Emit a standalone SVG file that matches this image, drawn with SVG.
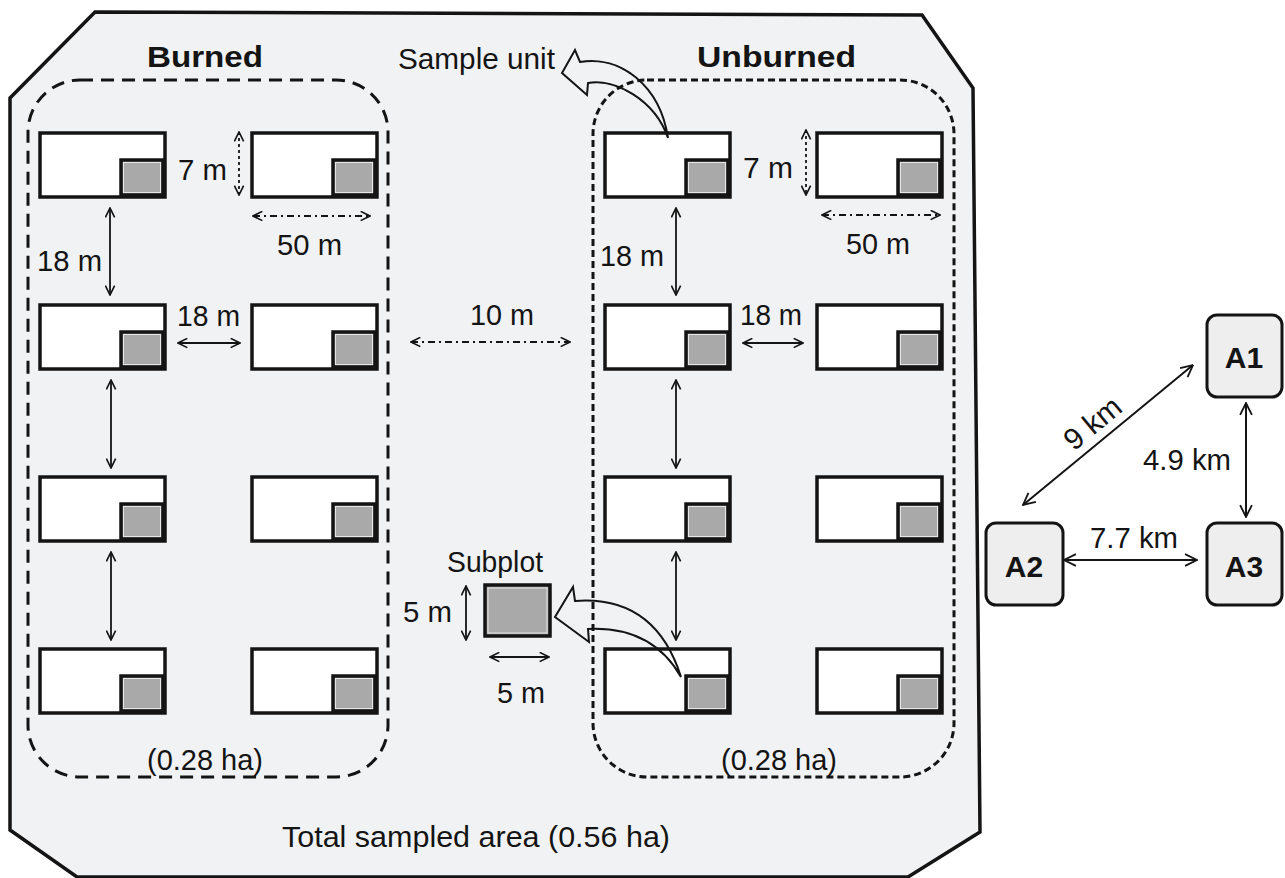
<svg xmlns="http://www.w3.org/2000/svg" xmlns:xlink="http://www.w3.org/1999/xlink" width="1285" height="878" viewBox="0 0 1285 878">
<style>
text{font-family:"Liberation Sans",Arial,sans-serif;fill:#141414;font-size:30px}
.b{font-weight:bold}
.frame{fill:#f1f2f3;stroke:#141414;stroke-width:3.5;stroke-linejoin:miter}
.zoneB{fill:none;stroke:#141414;stroke-width:3;stroke-dasharray:13 8}
.zoneU{fill:none;stroke:#141414;stroke-width:3;stroke-dasharray:7 4}
.uo{fill:#fff;stroke:#141414;stroke-width:3.5}
.ui{fill:#a9a9a9;stroke:#141414;stroke-width:3.5}
.uw{fill:none;stroke:#e6e6e6;stroke-width:1}
.ar{fill:none;stroke:#141414;stroke-width:1.8;marker-start:url(#ah);marker-end:url(#ah)}
.ark{fill:none;stroke:#141414;stroke-width:2;marker-start:url(#ahk);marker-end:url(#ahk)}
.dot{stroke-dasharray:3 3}
.dd{stroke-dasharray:7 4 2 4}
.blk{fill:none;stroke:#141414;stroke-width:2;stroke-linejoin:miter}
.site{fill:#eeeeee;stroke:#141414;stroke-width:3}
</style>
<defs>
<marker id="ah" viewBox="0 0 10 10" refX="9.5" refY="5" markerWidth="11" markerHeight="11" markerUnits="userSpaceOnUse" orient="auto-start-reverse">
<path d="M1,0.8 L9.5,5 L1,9.2" fill="none" stroke="#141414" stroke-width="1.5"/>
</marker>
<marker id="ahk" viewBox="0 0 10 10" refX="9.5" refY="5" markerWidth="14" markerHeight="14" markerUnits="userSpaceOnUse" orient="auto-start-reverse">
<path d="M1,0.8 L9.5,5 L1,9.2" fill="none" stroke="#141414" stroke-width="1.3"/>
</marker>
<g id="unit">
<rect class="uo" x="0" y="0" width="125" height="64"/>
<rect class="ui" x="81" y="27" width="42" height="35"/>
<rect class="uw" x="83.5" y="29.5" width="37" height="30"/>
</g>
</defs>

<g id="area">
<polygon class="frame" points="95,12 922,15 973,88 980,832 908,877 77,877 10,830 10,98"/>
</g>
<g id="burned-zone"><rect class="zoneB" x="28" y="80" width="360" height="697" rx="52" ry="52"/></g>
<g id="unburned-zone"><rect class="zoneU" x="593" y="80" width="361" height="697" rx="54" ry="54"/></g>

<g id="burned-units">
<g id="b11"><use xlink:href="#unit" x="40" y="133"/></g>
<g id="b12"><use xlink:href="#unit" x="252" y="133"/></g>
<g id="b21"><use xlink:href="#unit" x="40" y="305"/></g>
<g id="b22"><use xlink:href="#unit" x="252" y="305"/></g>
<g id="b31"><use xlink:href="#unit" x="40" y="477"/></g>
<g id="b32"><use xlink:href="#unit" x="252" y="477"/></g>
<g id="b41"><use xlink:href="#unit" x="40" y="649"/></g>
<g id="b42"><use xlink:href="#unit" x="252" y="649"/></g>
</g>
<g id="unburned-units">
<g id="u11"><use xlink:href="#unit" x="605" y="133"/></g>
<g id="u12"><use xlink:href="#unit" x="817" y="133"/></g>
<g id="u21"><use xlink:href="#unit" x="605" y="305"/></g>
<g id="u22"><use xlink:href="#unit" x="817" y="305"/></g>
<g id="u31"><use xlink:href="#unit" x="605" y="477"/></g>
<g id="u32"><use xlink:href="#unit" x="817" y="477"/></g>
<g id="u41"><use xlink:href="#unit" x="605" y="649"/></g>
<g id="u42"><use xlink:href="#unit" x="817" y="649"/></g>
</g>

<g id="subplot">
<rect class="ui" x="485" y="585" width="65" height="51"/>
<rect class="uw" x="488" y="588" width="59" height="45"/>
</g>

<g id="sites">
<g id="A1"><rect class="site" x="1207" y="315" width="75" height="82" rx="10"/><text class="b" x="1244" y="368" text-anchor="middle" font-size="31">A1</text></g>
<g id="A2"><rect class="site" x="986" y="523" width="77" height="82" rx="10"/><text class="b" x="1024" y="577" text-anchor="middle" font-size="31">A2</text></g>
<g id="A3"><rect class="site" x="1207" y="523" width="75" height="82" rx="10"/><text class="b" x="1244" y="577" text-anchor="middle" font-size="31">A3</text></g>
</g>

<g id="connectors">
<line class="ar dot" x1="239" y1="132" x2="239" y2="195"/>
<line class="ar dd" x1="253" y1="216" x2="370" y2="216"/>
<line class="ar" x1="110" y1="208" x2="110" y2="295"/>
<line class="ar" x1="111" y1="380" x2="111" y2="468"/>
<line class="ar" x1="111" y1="552" x2="111" y2="640"/>
<line class="ar" x1="178" y1="343" x2="240" y2="343"/>
<line class="ar dd" x1="411" y1="342" x2="570" y2="342"/>
<line class="ar dot" x1="806" y1="130" x2="806" y2="195"/>
<line class="ar dd" x1="822" y1="215" x2="940" y2="215"/>
<line class="ar" x1="676" y1="208" x2="676" y2="295"/>
<line class="ar" x1="676" y1="380" x2="676" y2="468"/>
<line class="ar" x1="676" y1="552" x2="676" y2="640"/>
<line class="ar" x1="743" y1="343" x2="803" y2="343"/>
<line class="ar" x1="466" y1="586" x2="466" y2="640"/>
<line class="ar" x1="490" y1="657" x2="549" y2="657"/>
<path class="blk" d="M668,138 C660,85 620,55 580,62 L575,50 L562,73 L587,95 L588,83 C615,78 655,100 668,138 Z"/>
<path class="blk" d="M681,677 Q655,595 575,601 L573,587 L555,617 L589,642 L588,629 Q652,626 681,677 Z"/>
<line class="ark" x1="1023" y1="505" x2="1193" y2="365"/>
<line class="ark" x1="1246" y1="403" x2="1246" y2="517"/>
<line class="ark" x1="1064" y1="560" x2="1197" y2="560"/>
</g>

<g id="labels">
<text class="b" x="147" y="67" font-size="33" textLength="116" lengthAdjust="spacingAndGlyphs">Burned</text>
<text class="b" x="697" y="67" font-size="33" textLength="159" lengthAdjust="spacingAndGlyphs">Unburned</text>
<text x="398" y="69" font-size="28" textLength="157" lengthAdjust="spacingAndGlyphs">Sample unit</text>
<text x="178" y="180" textLength="49" lengthAdjust="spacingAndGlyphs">7 m</text>
<text x="277" y="255" textLength="65" lengthAdjust="spacingAndGlyphs">50 m</text>
<text x="37" y="271" textLength="65" lengthAdjust="spacingAndGlyphs">18 m</text>
<text x="177" y="326" textLength="63" lengthAdjust="spacingAndGlyphs">18 m</text>
<text x="470" y="325" textLength="64" lengthAdjust="spacingAndGlyphs">10 m</text>
<text x="743" y="178" textLength="50" lengthAdjust="spacingAndGlyphs">7 m</text>
<text x="846" y="254" textLength="64" lengthAdjust="spacingAndGlyphs">50 m</text>
<text x="600" y="266" textLength="64" lengthAdjust="spacingAndGlyphs">18 m</text>
<text x="740" y="325" textLength="62" lengthAdjust="spacingAndGlyphs">18 m</text>
<text x="447" y="572" font-size="28" textLength="96" lengthAdjust="spacingAndGlyphs">Subplot</text>
<text x="403" y="622" textLength="49" lengthAdjust="spacingAndGlyphs">5 m</text>
<text x="497" y="703" textLength="48" lengthAdjust="spacingAndGlyphs">5 m</text>
<text x="147" y="770" textLength="116" lengthAdjust="spacingAndGlyphs">(0.28 ha)</text>
<text x="721" y="770" textLength="116" lengthAdjust="spacingAndGlyphs">(0.28 ha)</text>
<text x="282" y="847" textLength="388" lengthAdjust="spacingAndGlyphs">Total sampled area (0.56 ha)</text>
<text x="1099" y="431" font-size="28" text-anchor="middle" transform="rotate(-39.5 1099 431)">9 km</text>
<text x="1143" y="470" textLength="88" lengthAdjust="spacingAndGlyphs">4.9 km</text>
<text x="1090" y="548" textLength="88" lengthAdjust="spacingAndGlyphs">7.7 km</text>
</g>
</svg>
